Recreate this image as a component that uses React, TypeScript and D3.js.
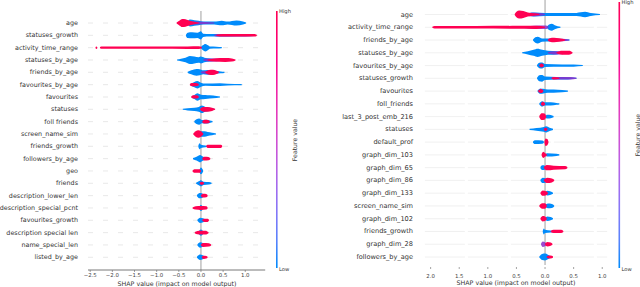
import React, { useEffect, useRef } from 'react';
import * as d3 from 'd3';

// profile = list of [shap value, density 0..1]; density -1 breaks the shape
type Prof = [number, number][];

const leftFeatures = [
  'age', 'statuses_growth', 'activity_time_range', 'statuses_by_age', 'friends_by_age',
  'favourites_by_age', 'favourites', 'statuses', 'foll friends', 'screen_name_sim',
  'friends_growth', 'followers_by_age', 'geo', 'friends', 'description_lower_len',
  'description_special_pcnt', 'favourites_growth', 'description special len', 'name_special_len', 'listed_by_age',
];

const leftBlue: Prof[] = [
  [[-0.32, 0], [-0.25, 0.8], [-0.15, 0.6], [-0.05, 0.5], [0.05, 0.3], [0.3, 0.25], [0.47, 0.5], [0.6, 0.25], [0.8, 0.55], [0.95, 0.25], [1.02, 0]],
  [[-0.34, 0], [-0.3, 0.6], [-0.2, 0.7], [-0.08, 0.6], [0, 1], [0.05, 0.3], [0.2, 0.2], [0.6, 0.15], [1.0, 0.1], [1.2, 0]],
  [[0.0, 0], [0.04, 0.5], [0.1, 0.9], [0.16, 0.5], [0.2, 0.15], [0.35, 0.1], [0.47, 0]],
  [[-0.54, 0], [-0.45, 0.2], [-0.35, 0.5], [-0.25, 1], [-0.15, 0.8], [-0.05, 0.6], [0, 0.8], [0.08, 0.5], [0.2, 0.3], [0.3, 0.15], [0.4, 0]],
  [[-0.3, 0], [-0.22, 0.4], [-0.1, 0.8], [-0.03, 0.7], [0.05, 0.4], [0.15, 0.5], [0.3, 0.3], [0.45, 0.1], [0.53, 0]],
  [[-0.24, 0], [-0.15, 0.6], [-0.08, 0.9], [0, 0.4], [0.1, 0.15], [0.43, 0.25], [0.6, 0.1], [0.92, 0]],
  [[-0.21, 0], [-0.14, 0.5], [-0.08, 0.9], [0, 0.5], [0.1, 0.4], [0.2, 0.3], [0.35, 0.15], [0.43, 0]],
  [[-0.41, 0], [-0.3, 0.15], [-0.15, 0.3], [-0.05, 0.5], [0.02, 0.9], [0.1, 0.5], [0.2, 0.3], [0.3, 0]],
  [[-0.15, 0], [-0.1, 0.5], [-0.04, 0.7], [0.02, 0.3], [0.12, 0.4], [0.2, 0.2], [0.26, 0]],
  [[-0.05, 0], [0.0, 0.6], [0.08, 0.6], [0.15, 0.4], [0.25, 0.2], [0.34, 0]],
  [[-0.06, 0], [-0.03, 0.7], [0.0, 0.3], [0.1, 0.1], [0.15, 0]],
  [[-0.18, 0], [-0.1, 0.4], [-0.02, 0.9], [0.05, 0.4], [0.15, 0]],
  [[-0.04, 0], [0.0, 0.8], [0.05, 0]],
  [[-0.11, 0], [-0.05, 0.4], [0.0, 0.7], [0.06, 0.3], [0.18, 0.2], [0.24, 0]],
  [[-0.09, 0], [-0.03, 0.6], [0.02, 0.5], [0.08, 0]],
  [[-0.05, 0], [0.0, 0.7], [0.05, 0]],
  [[-0.08, 0], [-0.02, 0.6], [0.05, 0.4], [0.12, 0]],
  [[-0.06, 0], [0.0, 0.7], [0.06, 0]],
  [[-0.08, 0], [-0.02, 0.6], [0.05, 0.3], [0.1, 0]],
  [[-0.09, 0], [-0.02, 0.6], [0.04, 0.4], [0.1, 0]],
];

const leftPurple: Prof[] = [
  [[-0.3, 0], [-0.1, 0.3], [0.1, 0.15], [0.3, 0]],
  [[0.3, 0], [0.4, 0.2], [0.7, 0.2], [1.0, 0.15], [1.2, 0]],
  [],
  [[0.05, 0], [0.15, 0.25], [0.35, 0.25], [0.5, 0]],
  [[0.0, 0], [0.1, 0.25], [0.3, 0.25], [0.4, 0]],
  [], [],
  [[0, 0], [0.1, 0.3], [0.2, 0]],
  [], [], [], [], [], [], [], [], [], [], [], [],
];

const leftPink: Prof[] = [
  [[-0.55, 0], [-0.5, 0.4], [-0.42, 1], [-0.35, 0.9], [-0.25, 0.5], [-0.15, 0.2], [-0.05, 0]],
  [[0.35, 0], [0.5, 0.2], [0.9, 0.2], [1.2, 0.2], [1.26, 0]],
  [[-2.38, 0], [-2.36, 0.2], [-2.34, 0], [-2.31, -1], [-2.28, 0], [-2.25, 0.15], [-1.0, 0.15], [-0.3, 0.2], [-0.05, 0.25], [0.02, 0]],
  [[0.15, 0], [0.3, 0.3], [0.55, 0.4], [0.7, 0.3], [0.78, 0]],
  [[0.1, 0], [0.18, 0.5], [0.27, 0.6], [0.35, 0.3], [0.4, 0]],
  [[-0.25, 0], [-0.2, 0.3], [-0.12, 0.3], [-0.05, 0]],
  [[-0.22, 0], [-0.17, 0.3], [-0.1, 0.3], [-0.05, 0]],
  [[-0.02, 0], [0.05, 0.5], [0.15, 0.5], [0.25, 0.3], [0.32, 0]],
  [[0.03, 0], [0.08, 0.4], [0.16, 0.3], [0.2, 0]],
  [[-0.17, 0], [-0.12, 0.6], [-0.06, 0.9], [0.0, 0.6], [0.05, 0]],
  [[0.12, 0], [0.15, 0.3], [0.45, 0.3], [0.48, 0]],
  [[0.03, 0], [0.08, 0.4], [0.17, 0.3], [0.21, 0]],
  [[-0.19, 0], [-0.15, 0.35], [-0.03, 0.35], [0.0, 0]],
  [[-0.03, 0], [0.02, 0.3], [0.07, 0]],
  [[0.0, 0], [0.05, 0.4], [0.12, 0.3], [0.15, 0]],
  [[-0.19, 0], [-0.12, 0.3], [0, 0.4], [0.12, 0.3], [0.15, 0]],
  [[0.03, 0], [0.08, 0.3], [0.15, 0.3], [0.18, 0]],
  [[-0.14, 0], [-0.08, 0.3], [0, 0.4], [0.1, 0.4], [0.17, 0]],
  [[0.0, 0], [0.05, 0.4], [0.18, 0.3], [0.23, 0]],
  [[0.02, 0], [0.06, 0.3], [0.12, 0.2], [0.15, 0]],
];

const leftTicks = [-2.5, -2, -1.5, -1, -0.5, 0, 0.5, 1];

const rightFeatures = [
  'age', 'activity_time_range', 'friends_by_age', 'statuses_by_age', 'favourites_by_age',
  'statuses_growth', 'favourites', 'foll_friends', 'last_3_post_emb_216', 'statuses',
  'default_prof', 'graph_dim_103', 'graph_dim_65', 'graph_dim_86', 'graph_dim_133',
  'screen_name_sim', 'graph_dim_102', 'friends_growth', 'graph_dim_28', 'followers_by_age',
];

const rightBlue: Prof[] = [
  [[-0.33, 0], [-0.2, 0.4], [0.0, 0.25], [0.3, 0.25], [0.55, 0.3], [0.7, 0.6], [0.8, 0.25], [0.96, 0]],
  [[0.03, 0], [0.07, 0.6], [0.12, 0.8], [0.17, 0.4], [0.22, 0.15], [0.27, 0]],
  [[-0.21, 0], [-0.17, 0.6], [-0.13, 0.8], [-0.05, 0.3], [0.1, 0.25], [0.3, 0.15], [0.43, 0]],
  [[-0.4, 0], [-0.3, 0.3], [-0.2, 0.7], [-0.13, 1], [-0.05, 0.7], [0.05, 0.4], [0.2, 0.3], [0.3, 0]],
  [[-0.14, 0], [-0.1, 0.6], [-0.05, 0.7], [0.0, 0.25], [0.3, 0.15], [0.5, 0.15], [0.66, 0]],
  [[-0.14, 0], [-0.1, 0.7], [-0.05, 0.8], [0.0, 0.35], [0.2, 0.2], [0.4, 0.15], [0.55, 0]],
  [[-0.13, 0], [-0.08, 0.6], [-0.03, 0.5], [0.05, 0.3], [0.15, 0.3], [0.3, 0.15], [0.4, 0]],
  [[-0.1, 0], [-0.05, 0.6], [0.0, 0.3], [0.1, 0.3], [0.2, 0.1], [0.25, 0]],
  [[0.0, 0], [0.04, 0.4], [0.1, 0.3], [0.15, 0]],
  [[-0.27, 0], [-0.15, 0.2], [-0.02, 0.5], [0.02, 0.7], [0.08, 0.3], [0.14, 0]],
  [[-0.21, 0], [-0.18, 0.35], [-0.05, 0.3], [-0.02, 0]],
  [[0.0, 0], [0.04, 0.3], [0.2, 0.15], [0.25, 0]],
  [[-0.08, 0], [-0.05, 0.5], [0.0, 0.4], [0.02, 0]],
  [[-0.08, 0], [-0.04, 0.6], [0.02, 0.4], [0.05, 0]],
  [[0.0, 0], [0.04, 0.5], [0.1, 0.3], [0.14, 0]],
  [[0.0, 0], [0.05, 0.5], [0.12, 0.4], [0.16, 0]],
  [[0.0, 0], [0.04, 0.5], [0.1, 0.3], [0.14, 0]],
  [[-0.04, 0], [-0.02, 0.7], [0.0, 0.3], [0.1, 0.1], [0.2, 0]],
  [],
  [[-0.1, 0], [-0.05, 0.7], [0.0, 0.8], [0.05, 0.5], [0.1, 0]],
];

const rightPurple: Prof[] = [
  [[-0.35, 0], [-0.25, 0.35], [-0.1, 0.25], [0, 0]],
  [[-0.4, 0], [-0.2, 0.3], [0.02, 0.35], [0.06, 0]],
  [[0.2, 0], [0.3, 0.2], [0.42, 0]],
  [[0.05, 0], [0.15, 0.3], [0.3, 0.25], [0.4, 0]],
  [],
  [[0.1, 0], [0.2, 0.2], [0.45, 0.2], [0.55, 0]],
  [], [], [], [], [], [], [], [], [], [], [], [],
  [[-0.07, 0], [-0.04, 0.6], [0.0, 0.4], [0.03, 0]],
  [],
];

const rightPink: Prof[] = [
  [[-0.53, 0], [-0.5, 0.6], [-0.45, 1], [-0.38, 0.8], [-0.3, 0.4], [-0.2, 0.2], [-0.1, 0]],
  [[-1.97, 0], [-1.93, 0.2], [-1.2, 0.2], [-0.5, 0.25], [-0.15, 0.3], [0.0, 0]],
  [[0.05, 0], [0.12, 0.5], [0.2, 0.4], [0.3, 0.2], [0.35, 0]],
  [[0.2, 0], [0.3, 0.4], [0.42, 0.4], [0.48, 0]],
  [[-0.1, 0], [-0.06, 0.4], [-0.02, 0]],
  [[0.12, 0], [0.15, 0.2], [0.25, 0]],
  [[-0.12, 0], [-0.07, 0.4], [-0.03, 0]],
  [[-0.07, 0], [-0.04, 0.4], [0.0, 0]],
  [[-0.1, 0], [-0.06, 0.8], [-0.01, 0.7], [0.02, 0]],
  [[-0.02, 0], [0.01, 0.3], [0.04, 0]],
  [[-0.01, 0], [0.01, 0.9], [0.04, 0.7], [0.06, 0]],
  [[-0.06, 0], [-0.03, 0.7], [0.0, 0.4], [0.03, 0]],
  [[-0.02, 0], [0.03, 0.6], [0.15, 0.4], [0.35, 0.3], [0.39, 0]],
  [[-0.02, 0], [0.04, 0.6], [0.12, 0.4], [0.16, 0]],
  [[-0.08, 0], [-0.04, 0.6], [0.02, 0.4], [0.05, 0]],
  [[-0.1, 0], [-0.05, 0.6], [0.0, 0.6], [0.03, 0]],
  [[-0.08, 0], [-0.04, 0.6], [0.0, 0.5], [0.03, 0]],
  [[0.1, 0], [0.15, 0.3], [0.28, 0.3], [0.32, 0]],
  [[0.0, 0], [0.04, 0.5], [0.1, 0.3], [0.13, 0]],
  [[0.03, 0], [0.07, 0.3], [0.12, 0.2], [0.14, 0]],
];

const rightTicks = [-2, -1.5, -1, -0.5, 0, 0.5, 1];

const BLUE = '#008bfb';
const PURPLE = '#8a2dc8';
const PINK = '#ff0052';
const FONT = 'DejaVu Sans, sans-serif';

const drawPanel = (svg, cfg) => {
  const x = d3.scaleLinear().domain(cfg.domain).range(cfg.xRange);
  const y = d3.scalePoint().domain(cfg.features).range(cfg.yRange);
  const h = d3.scaleLinear().domain([0, 1]).range([0.55, 4.1]);
  const g = svg.append('g');

  // grid lines
  g.selectAll('.grid').data(cfg.features).enter().append('line')
    .attr('x1', cfg.xRange[0]).attr('x2', cfg.xRange[1])
    .attr('y1', (d) => y(d)).attr('y2', (d) => y(d))
    .attr('stroke', cfg.gridColor).attr('stroke-width', 0.8)
    .attr('stroke-dasharray', cfg.gridDash);

  // zero line
  g.append('line')
    .attr('x1', x(0)).attr('x2', x(0))
    .attr('y1', cfg.zeroTop).attr('y2', cfg.axisY)
    .attr('stroke', '#a0a0a0').attr('stroke-width', 1);

  // labels
  g.selectAll('.lbl').data(cfg.features).enter().append('text')
    .attr('x', cfg.labelX).attr('y', (d) => y(d))
    .attr('text-anchor', 'end').attr('dominant-baseline', 'central')
    .style('font-family', FONT).style('font-size', cfg.labelSize).attr('fill', '#333')
    .text((d) => d);

  const layers = [[cfg.blue, BLUE, 1], [cfg.purple, PURPLE, 0.85], [cfg.pink, PINK, 1]];
  layers.forEach(([profs, color, op]) => {
    profs.forEach((p, i) => {
      if (!p || !p.length) return;
      const cy = y(cfg.features[i]);
      const area = d3.area()
        .defined((d) => d[1] >= 0)
        .x((d) => x(d[0]))
        .y0((d) => cy - h(d[1]))
        .y1((d) => cy + h(d[1]))
        .curve(d3.curveMonotoneX);
      g.append('path').attr('d', area(p)).attr('fill', color).attr('fill-opacity', op);
    });
  });

  // x axis
  const axis = g.append('g').attr('transform', `translate(0,${cfg.axisY})`);
  if (cfg.spine) {
    axis.append('line').attr('x1', cfg.xRange[0]).attr('x2', cfg.xRange[1])
      .attr('stroke', '#555').attr('stroke-width', 0.8);
  }
  cfg.ticks.forEach((t) => {
    axis.append('line').attr('x1', x(t)).attr('x2', x(t)).attr('y1', cfg.tickY0).attr('y2', cfg.tickY0 + 2)
      .attr('stroke', '#666').attr('stroke-width', 0.6);
    axis.append('text').attr('x', x(t)).attr('y', cfg.tickLabelY)
      .attr('text-anchor', 'middle')
      .style('font-family', FONT).style('font-size', '5.4px').attr('fill', '#444')
      .text(cfg.tickFormat(t));
  });
  g.append('text')
    .attr('x', cfg.titleX).attr('y', cfg.titleY).attr('text-anchor', 'middle')
    .style('font-family', FONT).style('font-size', '6.3px').attr('fill', '#333')
    .text('SHAP value (impact on model output)');

  // colour bar
  const cb = g.append('g');
  cb.append('rect').attr('x', cfg.cbX).attr('y', cfg.cbTop).attr('width', 1.6)
    .attr('height', cfg.cbBottom - cfg.cbTop).attr('fill', 'url(#cbgrad)');
  cb.append('text').attr('x', cfg.cbX + 3).attr('y', cfg.cbTop + 2)
    .style('font-family', FONT).style('font-size', '5.2px').attr('fill', '#333').text('High');
  cb.append('text').attr('x', cfg.cbX + 3).attr('y', cfg.cbBottom + 2.5)
    .style('font-family', FONT).style('font-size', '5.2px').attr('fill', '#333').text('Low');
  cb.append('text')
    .attr('transform', `translate(${cfg.fvX},${cfg.fvY}) rotate(-90)`)
    .attr('text-anchor', 'middle').attr('dominant-baseline', 'central')
    .style('font-family', FONT).style('font-size', '6.2px').attr('fill', '#333')
    .text('Feature value');
};

const App = () => {
  const ref = useRef(null);

  useEffect(() => {
    const svg = d3.select(ref.current);
    svg.selectAll('*').remove();

    const defs = svg.append('defs');
    const grad = defs.append('linearGradient').attr('id', 'cbgrad')
      .attr('x1', 0).attr('x2', 0).attr('y1', 0).attr('y2', 1);
    const interp = d3.interpolateHcl(PINK, BLUE);
    d3.range(0, 1.001, 0.1).forEach((t) => {
      grad.append('stop').attr('offset', t).attr('stop-color', interp(t));
    });

    drawPanel(svg, {
      features: leftFeatures, blue: leftBlue, purple: leftPurple, pink: leftPink,
      domain: [-2.55, 1.45], xRange: [88, 265.2], yRange: [23, 257.3],
      labelX: 78, labelSize: '6.4px', gridColor: '#e2e2e2', gridDash: '5,10',
      zeroTop: 11, axisY: 270, spine: true, tickY0: 0, tickLabelY: 6.5,
      ticks: leftTicks, tickFormat: (t) => d3.format('.1f')(t).replace('-', '\u2212'),
      titleX: 177, titleY: 285.5,
      cbX: 276, cbTop: 11, cbBottom: 268, fvX: 294.5, fvY: 140,
    });

    drawPanel(svg, {
      features: rightFeatures, blue: rightBlue, purple: rightPurple, pink: rightPink,
      domain: [-2.1, 1.085], xRange: [424.9, 607.1], yRange: [14.5, 257],
      labelX: 413, labelSize: '6.6px', gridColor: '#ececec', gridDash: '40,3',
      zeroTop: 0, axisY: 265, spine: false, tickY0: 2, tickLabelY: 12.5,
      ticks: rightTicks, tickFormat: (t) => d3.format('.1f')(Math.abs(t)),
      titleX: 516, titleY: 285,
      cbX: 618.5, cbTop: 2, cbBottom: 268, fvX: 637.5, fvY: 135,
    });
  }, []);

  return (
    <svg ref={ref} width={640} height={287}
      style={{ position: 'absolute', left: 0, top: 0, background: '#fff' }} />
  );
};

export default App;
